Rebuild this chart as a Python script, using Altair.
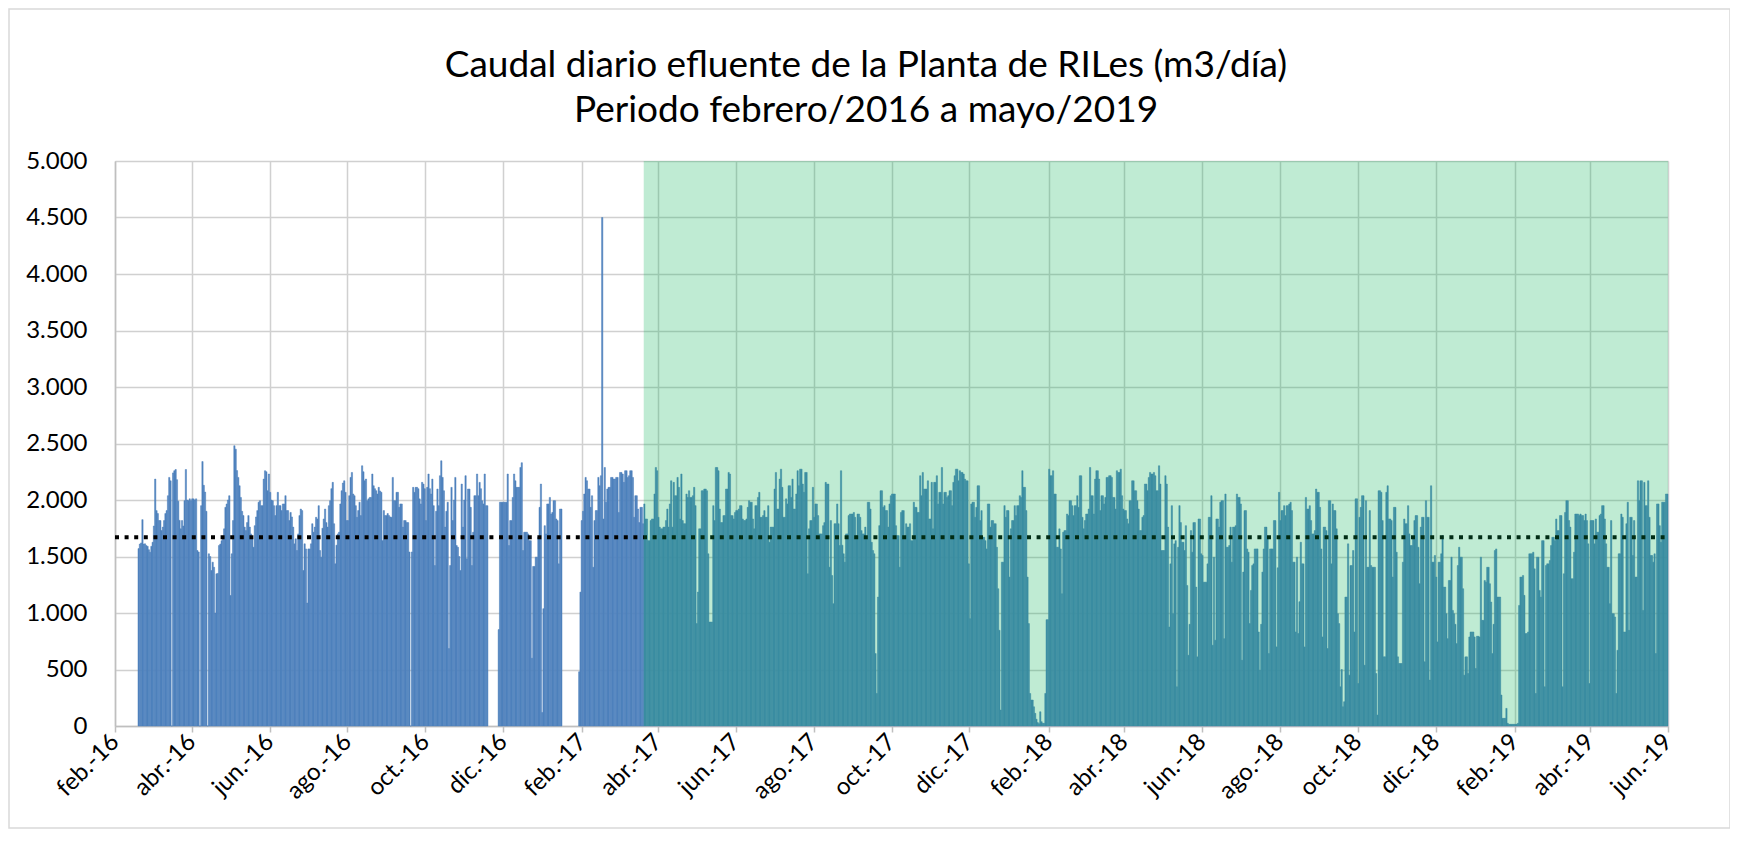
import altair as alt
import pandas as pd

# Caudal diario (m3/día). Each list holds consecutive days starting at the date given in SEGMENTS.
feb16 = [1570, 1610, 1620, 1826, 1610, 1612, 1597, 1590, 1560, 1538, 1590]
mar16 = [1626, 1770, 2185, 1906, 1880, 1818, 1818, 1730, 1760, 1818,
         1880, 1906, 2038, 2200, 2170, 0, 2240, 2259, 2270, 2180,
         1990, 1820, 1745, 1818, 1770, 1994, 2270, 2000, 1994, 2010, 1994]
apr16 = [2010, 2010, 2000, 2010, 1553, 1540, 0, 1950, 2340, 2130,
         2070, 1900, 0, 1524, 1500, 1376, 1450, 1405, 1000, 1347,
         1350, 1597, 1610, 1640, 1670, 1745, 1935, 1965, 2000, 2038]
may16 = [1155, 1524, 1818, 2480, 2450, 2260, 2200, 2126, 2023, 1900,
         1862, 1760, 1729, 1800, 1862, 1760, 1700, 1656, 1582, 1773,
         1850, 1906, 1980, 1994, 1950, 1950, 2185, 2259, 2250, 2082, 2230]
jun16 = [2068, 2000, 1994, 1950, 1862, 1950, 2068, 1950, 1950, 1906,
         1965, 1965, 2038, 1906, 1906, 1818, 1890, 1850, 1760, 1612,
         1656, 1553, 1700, 1862, 1920, 1906, 1376, 1612, 1567, 1088]
jul16 = [1567, 1567, 1612, 1790, 1715, 1760, 1847, 1832, 1950, 1553,
         1494, 1750, 1832, 1920, 1800, 1760, 1950, 1994, 2100, 2156,
         1790, 1435, 1600, 1700, 1715, 1965, 2082, 2150, 2170, 2068, 1818]
aug16 = [1818, 2038, 2200, 2244, 2053, 2038, 1950, 1847, 1906, 1980,
         1862, 2303, 2250, 2170, 2185, 1994, 2010, 2023, 2023, 2230,
         2126, 2100, 2082, 2053, 2112, 2080, 2068, 1640, 1906, 1862, 1862]
sep16 = [1880, 1862, 1850, 1847, 2200, 1994, 1994, 2068, 2068, 1935,
         1965, 1965, 1760, 1818, 1818, 1800, 1800, 1540, 0, 1540,
         2112, 2068, 2112, 2112, 2100, 2010, 1965, 2156, 2141, 2100]
oct16 = [1818, 2112, 2230, 2100, 2053, 2185, 1950, 1420, 1900, 2097,
         1950, 2215, 2347, 2200, 2082, 1760, 1900, 1980, 685, 1420,
         2112, 1818, 2000, 2200, 1597, 1582, 1500, 1376, 2141, 1760, 2000]
nov16 = [2215, 1479, 2097, 2097, 1935, 1420, 1715, 2038, 2038, 2230,
         2038, 2156, 2100, 1994, 1965, 2230, 1950, 1950]
nov16b = [853, 1980, 1980, 1980]
dec16 = [1980, 1980, 1980, 2230, 1597, 1818, 1818, 2023, 2230, 2170,
         2112, 2112, 2112, 2288, 2330, 1553, 1715, 1715, 1715, 1700,
         1640, 1640, 600, 1412, 1412, 1494, 1494, 1670, 1935, 2141, 120]
jan17 = [1038, 1773, 1700, 1965, 1965, 2023, 1876, 1890, 1994, 1994,
         1832, 1818, 1435, 1920, 1920]
jan17b = [480, 1185, 1818]
feb17 = [1900, 2053, 2200, 2170, 2097, 2097, 1935, 2038, 1405, 1818,
         1906, 1906, 2200, 2126, 2215, 4500, 1832, 2288, 1980, 2097,
         2112, 2112, 2200, 2200, 2185, 2185, 2200, 2200]
mar17 = [1890, 2244, 2244, 2230, 2156, 2259, 2259, 2200, 2215, 2259,
         2259, 2200, 1847, 2038, 2038, 1920, 1800, 1935, 1935, 1790,
         1965, 1832, 1832, 1640, 1640, 1818, 1832, 1832, 2053, 2288, 2259]
apr17 = [1847, 1760, 1745, 1745, 1760, 1760, 1818, 1920, 1760, 1965,
         2170, 1760, 2156, 2038, 2038, 2200, 2112, 1832, 2230, 1818,
         1790, 1790, 2053, 2023, 2082, 2023, 2023, 2038, 2112, 1950]
may17 = [906, 1185, 1745, 1745, 2082, 2082, 2097, 2097, 2082, 1524,
         920, 920, 920, 1950, 1818, 2288, 2288, 2259, 1920, 1800,
         1800, 1862, 1862, 2097, 2097, 2244, 2230, 1862, 1862, 1832, 1890]
jun17 = [1906, 1906, 1920, 1950, 1950, 1832, 1818, 1818, 1832, 1935,
         1994, 1980, 1980, 1832, 1745, 1950, 1950, 2023, 2068, 1847,
         1847, 1862, 1906, 1847, 1847, 1950, 1626, 1760, 1760, 1760]
jul17 = [2097, 2244, 1920, 1920, 2185, 2273, 2112, 1847, 1847, 2010,
         1965, 2126, 2126, 2023, 2185, 1920, 1920, 2053, 2259, 2126,
         2273, 2273, 2141, 2068, 2244, 2244, 1347, 1745, 1818, 1818, 2112]
aug17 = [1847, 1965, 1965, 1862, 1700, 1700, 1700, 1773, 1800, 2156,
         2141, 2141, 1405, 1818, 1332, 1082, 1790, 1790, 1965, 1790,
         1597, 2259, 1600, 1524, 1450, 1700, 1700, 1862, 1876, 1876, 1876]
sep17 = [1890, 1847, 1685, 1876, 1876, 1847, 1729, 1700, 1700, 1760,
         1656, 1980, 1980, 1920, 1626, 1553, 1524, 641, 288, 1141,
         1773, 2082, 2082, 1935, 1950, 1906, 1906, 1760, 1965, 2038]
oct17 = [2053, 2053, 2053, 1773, 1685, 1685, 1405, 1890, 1906, 1906,
         1670, 1790, 1760, 1760, 1790, 1640, 1640, 1980, 1935, 1935,
         1890, 1890, 2215, 2038, 2244, 2097, 2097, 2097, 2170, 1832, 1832]
nov17 = [2156, 1745, 2156, 2156, 2215, 1965, 2068, 2068, 2288, 1965,
         2068, 2068, 2023, 2038, 2082, 2082, 1950, 2156, 2215, 2273,
         2273, 2170, 2259, 2244, 2244, 2230, 2185, 2170, 2170, 1435]
dec17 = [950, 1965, 1980, 1980, 1847, 1935, 2126, 2126, 1818, 1906,
         1670, 1670, 1640, 1567, 1965, 1965, 1760, 1818, 1818, 1790,
         1790, 1582, 1215, 847, 141, 1450, 1450, 1950, 1847, 1906, 1906]
jan18 = [1318, 1745, 1818, 1818, 1950, 1862, 1950, 1950, 2038, 2023,
         2259, 2112, 2112, 1906, 1318, 906, 288, 230, 230, 170,
         112, 60, 30, 20, 126, 38, 24, 24, 288, 941, 941]
feb18 = [2273, 2215, 2215, 2259, 2053, 2053, 1582, 1582, 1745, 1567,
         1170, 1715, 1729, 1729, 1876, 1862, 1994, 1994, 1950, 1862,
         1950, 1950, 2038, 1935, 2215, 2215, 1847, 1745]
mar18 = [1818, 1876, 1876, 1920, 2288, 2038, 2038, 1876, 2185, 2259,
         2259, 2185, 1906, 2038, 2038, 1965, 2023, 2200, 2200, 2215,
         2215, 2200, 2023, 2023, 1920, 2259, 2244, 2244, 2273, 2038, 1920]
apr18 = [1906, 1906, 1832, 1790, 1994, 1994, 2170, 2170, 2082, 2082,
         1994, 1920, 1729, 1729, 1847, 1862, 2141, 2141, 2082, 2200,
         2244, 2230, 2230, 2244, 2215, 2082, 2082, 2303, 2141, 1553]
may18 = [1553, 1553, 2215, 2141, 1760, 876, 1435, 1950, 994, 1612,
         1640, 347, 1582, 1950, 1800, 1626, 1626, 1553, 1773, 1244,
         626, 900, 1729, 1538, 1800, 1800, 1229, 612, 1832, 1832, 1524]
jun18 = [1509, 1273, 1273, 1273, 1435, 1847, 1847, 2038, 715, 1494,
         759, 1832, 1832, 1760, 1980, 1994, 1994, 773, 2053, 1582,
         1582, 1597, 1760, 1450, 1760, 1760, 1773, 2053, 2023, 2023]
jul18 = [1965, 582, 1362, 1906, 1906, 1567, 1538, 906, 1200, 1420,
         1435, 1567, 1567, 1567, 832, 494, 900, 1362, 1567, 1760,
         1760, 1670, 641, 1567, 1567, 1567, 1818, 1818, 700, 1400, 2068]
aug18 = [1818, 1906, 1906, 1950, 1862, 1950, 1950, 1965, 1980, 1906,
         1450, 1450, 832, 1494, 818, 1100, 1626, 1435, 1435, 700,
         2023, 1920, 1920, 1950, 1818, 1700, 1700, 1729, 2097, 2068, 2068]
sep18 = [1935, 1567, 788, 1760, 1760, 1729, 685, 1994, 1994, 1435,
         1965, 1906, 1906, 1745, 994, 906, 347, 500, 170, 215,
         1141, 1141, 1612, 450, 1420, 1420, 1553, 832, 2010, 2010]
oct18 = [376, 1847, 1935, 2038, 2038, 538, 1994, 1405, 1405, 1906,
         1420, 1405, 1405, 1405, 465, 97, 2082, 2082, 2068, 1818,
         612, 612, 2068, 2126, 1832, 1832, 1818, 1318, 1935, 1935, 1538]
nov18 = [612, 553, 553, 553, 1450, 1832, 1790, 1790, 1950, 1700,
         1597, 1597, 1670, 1818, 1862, 1862, 1582, 1259, 1760, 1847,
         1847, 568, 1994, 1847, 1847, 406, 2126, 1450, 1450, 1509]
dec18 = [1318, 744, 1450, 1450, 1524, 1685, 1229, 1229, 994, 773,
         1288, 1288, 1494, 1023, 994, 900, 729, 1420, 1582, 1494,
         1494, 1215, 450, 612, 612, 465, 788, 832, 832, 832, 788]
jan19 = [509, 794, 794, 788, 1494, 935, 935, 1288, 1273, 1405,
         1405, 1259, 1097, 641, 900, 1553, 1567, 1141, 1141, 1141,
         274, 68, 68, 68, 156, 24, 15, 15, 15, 15, 15]
feb19 = [15, 15, 24, 1067, 1318, 1318, 1332, 1156, 818, 818,
         832, 1524, 1524, 1524, 1538, 1391, 288, 1494, 1494, 1200,
         1141, 1640, 1640, 347, 1420, 1435, 1435, 1465]
mar19 = [1597, 1670, 1670, 1640, 1832, 1729, 1729, 1862, 1862, 347,
         1347, 1890, 1994, 1994, 1818, 1760, 1303, 1303, 1538, 1876,
         1876, 1876, 1862, 1876, 1862, 1862, 1818, 1876, 1818, 1612, 376]
apr19 = [1818, 1818, 1818, 1612, 1832, 1715, 1715, 1862, 1876, 1950,
         1950, 1832, 1612, 1405, 1405, 1082, 1818, 994, 994, 965,
         288, 670, 1524, 1524, 1876, 1847, 832, 832, 1790, 1980]
may19 = [847, 1847, 1847, 1509, 1818, 1318, 1318, 2170, 1994, 2170,
         2170, 1023, 2156, 1950, 1950, 2170, 1847, 1509, 1509, 1450,
         1524, 641, 1965, 1965, 1773, 1626, 1980, 1980, 1980, 2053, 2053]

SEGMENTS = [
    ("2016-02-19", feb16), ("2016-03-01", mar16), ("2016-04-01", apr16),
    ("2016-05-01", may16), ("2016-06-01", jun16), ("2016-07-01", jul16),
    ("2016-08-01", aug16), ("2016-09-01", sep16), ("2016-10-01", oct16),
    ("2016-11-01", nov16), ("2016-11-27", nov16b), ("2016-12-01", dec16),
    ("2017-01-01", jan17), ("2017-01-29", jan17b), ("2017-02-01", feb17),
    ("2017-03-01", mar17), ("2017-04-01", apr17), ("2017-05-01", may17),
    ("2017-06-01", jun17), ("2017-07-01", jul17), ("2017-08-01", aug17),
    ("2017-09-01", sep17), ("2017-10-01", oct17), ("2017-11-01", nov17),
    ("2017-12-01", dec17), ("2018-01-01", jan18), ("2018-02-01", feb18),
    ("2018-03-01", mar18), ("2018-04-01", apr18), ("2018-05-01", may18),
    ("2018-06-01", jun18), ("2018-07-01", jul18), ("2018-08-01", aug18),
    ("2018-09-01", sep18), ("2018-10-01", oct18), ("2018-11-01", nov18),
    ("2018-12-01", dec18), ("2019-01-01", jan19), ("2019-02-01", feb19),
    ("2019-03-01", mar19), ("2019-04-01", apr19), ("2019-05-01", may19),
]

PROMEDIO = 1670
ZONA_INICIO = "2017-03-21"
ZONA_FIN = "2019-06-01"
EJE_INICIO = "2016-02-01"
EJE_FIN = "2019-06-01"
Y_TICKS = [0, 500, 1000, 1500, 2000, 2500, 3000, 3500, 4000, 4500, 5000]
MESES = ["ene.", "feb.", "mar.", "abr.", "may.", "jun.",
         "jul.", "ago.", "sep.", "oct.", "nov.", "dic."]
TITULO = ["Caudal diario efluente de la Planta de RILes (m3/día)",
          "Periodo febrero/2016 a mayo/2019"]

rows = []
for start, vals in SEGMENTS:
    d0 = pd.Timestamp(start)
    for i, v in enumerate(vals):
        d = d0 + pd.Timedelta(days=i)
        rows.append({"fecha": d.strftime("%Y-%m-%d"),
                     "fin": (d + pd.Timedelta(days=1)).strftime("%Y-%m-%d"),
                     "caudal": v})
df = pd.DataFrame(rows)


def ms(s):
    return int(pd.Timestamp(s).value // 10**6)


x_ticks = [ms(t) for t in pd.date_range(EJE_INICIO, EJE_FIN, freq="2MS")]
month_arr = "[" + ",".join("'%s'" % m for m in MESES) + "]"
x_label_expr = month_arr + "[utcmonth(datum.value)] + '-' + utcFormat(datum.value, '%y')"

GRID = "#D0D0D0"
AXISLINE = "#BFBFBF"
FONT = "Lato"
BLUE = "#4F81BD"

x_scale = alt.Scale(type="utc", domain=[ms(EJE_INICIO), ms(EJE_FIN)], nice=False)
y_scale = alt.Scale(domain=[0, 5000], nice=False)

x_axis = alt.Axis(values=x_ticks, labelExpr=x_label_expr, labelAngle=-45,
                  labelAlign="right", labelBaseline="middle", labelFontSize=24,
                  labelFont=FONT, labelColor="#000000", labelPadding=6,
                  labelOverlap=False, labelFlush=False, labelBound=False,
                  tickSize=6, tickColor=AXISLINE, tickWidth=1.5,
                  domainColor=AXISLINE, domainWidth=1.5,
                  grid=True, gridColor=GRID, gridWidth=1.5, title=None)
y_axis = alt.Axis(values=Y_TICKS,
                  labelExpr="replace(format(datum.value, ','), ',', '.')",
                  labelFontSize=24, labelFont=FONT, labelColor="#000000",
                  labelPadding=28, ticks=False,
                  domainColor=AXISLINE, domainWidth=1.5,
                  grid=True, gridColor=GRID, gridWidth=1.5, title=None)

bars = alt.Chart(df).mark_bar(color=BLUE, stroke=BLUE, strokeWidth=0.5).encode(
    x=alt.X("fecha:T", scale=x_scale, axis=x_axis, title=None),
    x2="fin:T",
    y=alt.Y("caudal:Q", scale=y_scale, axis=y_axis, title=None),
    y2=alt.datum(0),
)

linea_df = pd.DataFrame({"fecha": [EJE_INICIO, EJE_FIN], "caudal": [PROMEDIO, PROMEDIO]})
linea = alt.Chart(linea_df).mark_line(color="#000000", strokeDash=[4, 5.6],
                                      strokeWidth=4, strokeCap="butt").encode(
    x=alt.X("fecha:T", title=None),
    y=alt.Y("caudal:Q", title=None),
)

zona_df = pd.DataFrame({"inicio": [ZONA_INICIO], "fin": [ZONA_FIN], "y0": [0], "y1": [5000]})
zona = alt.Chart(zona_df).mark_rect(color="#00B050", opacity=0.25).encode(
    x=alt.X("inicio:T", title=None),
    x2="fin:T",
    y=alt.Y("y0:Q", title=None),
    y2="y1:Q",
)

marco = alt.Chart(pd.DataFrame({"k": [0]})).mark_rect(
    filled=False, stroke="#D9D9D9", strokeWidth=1.5).encode(
    x=alt.value(-106), x2=alt.value(1615), y=alt.value(-152), y2=alt.value(667))

titulo1 = alt.Chart(pd.DataFrame({"t": [TITULO[0]]})).mark_text(
    font=FONT, fontSize=37, color="#000000", align="center", baseline="middle").encode(
    text="t:N", x=alt.value(751), y=alt.value(-95))
titulo2 = alt.Chart(pd.DataFrame({"t": [TITULO[1]]})).mark_text(
    font=FONT, fontSize=37, color="#000000", align="center", baseline="middle").encode(
    text="t:N", x=alt.value(751), y=alt.value(-50))

chart = alt.layer(bars, linea, zona, marco, titulo1, titulo2).properties(
    width=1553, height=565,
    autosize=alt.AutoSizeParams(type="none"),
    padding={"left": 107, "top": 153, "right": 62, "bottom": 104},
).configure_view(stroke=None).configure(font=FONT)

chart.save("out.html", embed_options={"renderer": "svg", "actions": False})
